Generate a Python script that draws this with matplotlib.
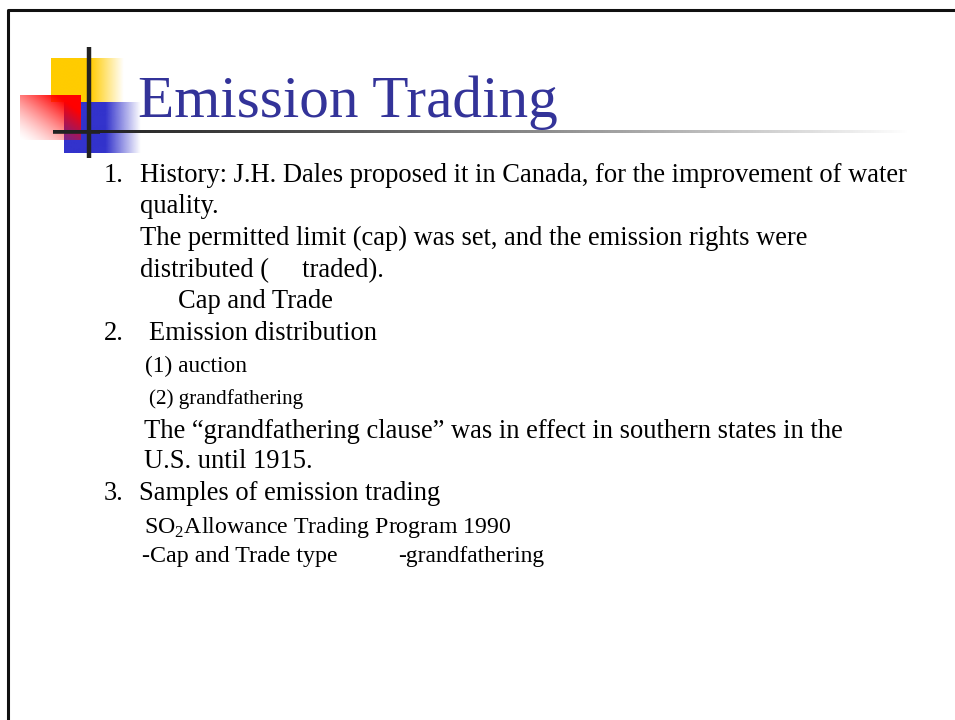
import numpy as np
import matplotlib
matplotlib.use("Agg")
import matplotlib.pyplot as plt

plt.rcParams['font.family'] = ['Liberation Serif', 'DejaVu Serif']
plt.rcParams['mathtext.fontset'] = 'custom'
plt.rcParams['mathtext.rm'] = 'Liberation Serif'

# slide text: (x, baseline y, text, size)
title = "Emission Trading"
lines = [
    (104, 182, "1.", 19.1),
    (140, 182, "History: J.H. Dales proposed it in Canada, for the improvement of water", 19.1),
    (140, 213, "quality.", 19.1),
    (140, 245, "The permitted limit (cap) was set, and the emission rights were", 19.1),
    (140, 277, "distributed (     traded).", 19.1),
    (178, 308, "Cap and Trade", 19.1),
    (104, 340, "2.", 19.1),
    (149, 340, "Emission distribution", 19.1),
    (145, 372, "(1) auction", 16.8),
    (149, 404, "(2) grandfathering", 15.2),
    (144, 438, "The \u201cgrandfathering clause\u201d was in effect in southern states in the", 19.1),
    (144, 468, "U.S. until 1915.", 19.1),
    (104, 500, "3.", 19.1),
    (139, 500, "Samples of emission trading", 19.1),
    (144, 533, r"SO$_{\mathrm{2}}$Allowance Trading Program 1990", 17.2),
    (142, 562, "-Cap and Trade type", 17.3),
    (398, 562, "-grandfathering", 16.8),
]

fig = plt.figure(figsize=(9.55, 7.2), dpi=100)
ax = fig.add_axes([0, 0, 1, 1])
ax.set_xlim(0, 955)
ax.set_ylim(720, 0)
ax.axis('off')

# slide frame
ax.plot([8, 8, 955], [720, 10, 10], color='#111111', lw=2.2, solid_capstyle='butt')

def grad_box(x0, x1, y0, y1, rgb, kind):
    n = 200
    gx = np.linspace(0, 1, n)
    gy = np.linspace(0, 1, n)
    X, Y = np.meshgrid(gx, gy)
    if kind == 'h':
        a = np.clip((1 - X) / 0.46, 0, 1)
    else:
        a = np.clip((X + (1 - Y)) / 1.6, 0, 1) ** 1.4
    img = np.zeros((n, n, 4))
    img[..., :3] = rgb
    img[..., 3] = a
    ax.imshow(img, extent=[x0, x1, y1, y0], interpolation='bilinear', zorder=2, aspect='auto')

grad_box(51, 123, 58, 102, (1.0, 0.8, 0.0), 'h')
grad_box(64, 140, 102, 153, (0.2, 0.2, 0.8), 'h')
grad_box(20, 80, 95, 140, (1.0, 0.0, 0.0), 'd')

# horizontal rule fading to white
n = 400
hr = np.zeros((1, n, 4))
hr[..., :3] = 0.13
hr[0, :, 3] = np.clip(1 - np.linspace(0, 1, n) ** 1.3, 0, 1)
ax.imshow(hr, extent=[53, 910, 133, 130], interpolation='bilinear', zorder=3, aspect='auto')
# vertical bar
ax.plot([89, 89], [47, 158], color='#222222', lw=3.2, zorder=4, solid_capstyle='butt')
ax.plot([53, 100], [131.5, 131.5], color='#222222', lw=2.6, zorder=4, solid_capstyle='butt')

ax.set_xlim(0, 955)
ax.set_ylim(720, 0)

ax.text(138, 117, title, fontsize=42.7, color='#333399', va='baseline', ha='left', zorder=5)
for x, y, s, fs in lines:
    ax.text(x, y, s, fontsize=fs, color='black', va='baseline', ha='left', zorder=5)

fig.savefig('out.png', dpi=100)
